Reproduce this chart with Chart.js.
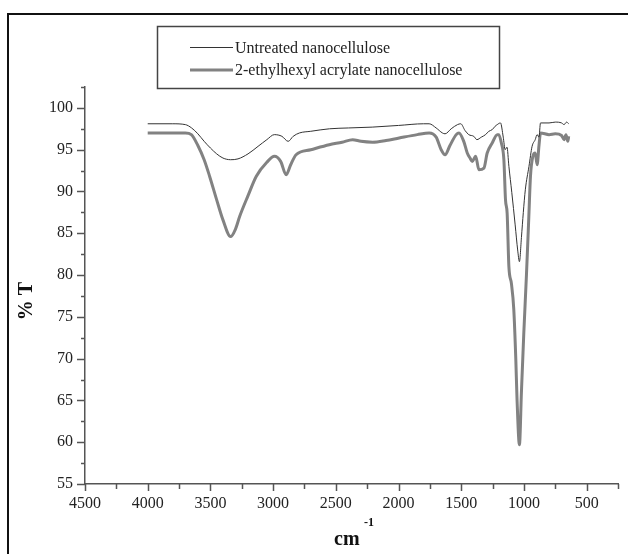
<!DOCTYPE html>
<html>
<head>
<meta charset="utf-8">
<script src="https://cdn.jsdelivr.net/npm/chart.js@4"></script>
<style>
  html, body { margin: 0; padding: 0; background: #fff; }
  #wrap { position: relative; width: 628px; height: 554px; overflow: hidden; }
  #frame { position: absolute; left: 7px; top: 13px; width: 700px; height: 700px;
           border-left: 2px solid #111; border-top: 2px solid #111; }
  #chart { position: absolute; left: 0; top: 0; }
</style>
</head>
<body>
<div id="wrap">
  <div id="frame"></div>
  <canvas id="chart" width="628" height="554"></canvas>
</div>
<script>
// wavenumbers (cm-1) and %T
const waveUntreated = [4000, 3800, 3700, 3650, 3600, 3550, 3500, 3450, 3400, 3340, 3280, 3200, 3120, 3050,
  2990, 2930, 2880, 2840, 2790, 2700, 2550, 2400, 2210, 2000, 1800, 1756, 1700, 1650, 1629, 1580, 1530,
  1504, 1470, 1440, 1400, 1375, 1340, 1306, 1280, 1253, 1230, 1213, 1187, 1165, 1150, 1135, 1120, 1097,
  1070, 1050, 1036, 1020, 1005, 989, 960, 935, 910, 895, 880, 868, 800, 750, 700, 680, 660, 643];
const tUntreated = [98.1, 98.1, 98.0, 97.6, 96.9, 96.0, 95.2, 94.5, 94.0, 93.8, 93.9, 94.5, 95.4, 96.2,
  96.8, 96.6, 96.0, 96.6, 97.0, 97.2, 97.5, 97.6, 97.7, 97.9, 98.1, 98.1, 97.6, 97.0, 96.9, 97.5, 98.0,
  98.1, 97.3, 96.8, 96.6, 96.2, 96.5, 96.8, 97.2, 97.4, 97.8, 98.0, 98.2, 96.5, 95.0, 95.3, 93.0, 89.9,
  86.0, 83.0, 81.6, 84.5, 87.5, 90.2, 93.0, 95.4, 96.2, 96.8, 96.5, 98.2, 98.2, 98.3, 98.2, 98.0, 98.3, 98.1];

const waveTreated = [4000, 3800, 3700, 3652, 3600, 3550, 3506, 3450, 3400, 3339, 3300, 3267, 3200, 3135,
  3050, 2989, 2940, 2896, 2860, 2817, 2700, 2552, 2450, 2366, 2300, 2207, 2100, 1995, 1850, 1756, 1700,
  1660, 1629, 1590, 1540, 1518, 1480, 1452, 1430, 1412, 1385, 1359, 1319, 1293, 1253, 1213, 1200, 1180,
  1160, 1147, 1134, 1120, 1100, 1081, 1065, 1055, 1036, 1020, 1001, 980, 961, 948, 929, 910, 895, 880,
  868, 800, 750, 700, 680, 665, 650, 643];
const tTreated = [97.0, 97.0, 97.0, 96.8, 95.5, 93.8, 91.8, 89.0, 86.6, 84.6, 85.5, 87.0, 89.5, 91.8,
  93.5, 94.2, 93.6, 92.0, 93.2, 94.4, 95.0, 95.6, 95.9, 96.2, 96.0, 95.9, 96.1, 96.4, 96.8, 97.0, 96.5,
  95.0, 94.4, 95.5, 96.8, 97.0, 96.0, 94.6, 94.0, 93.6, 94.2, 92.6, 92.8, 94.6, 95.8, 96.8, 96.8, 95.8,
  93.8, 89.0, 87.4, 81.0, 79.0, 75.9, 70.0, 65.1, 59.7, 66.0, 73.1, 80.0, 87.0, 91.8, 94.2, 94.6, 93.2, 95.5,
  97.0, 96.8, 96.9, 96.7, 96.2, 96.8, 96.0, 96.6];

const seriesNames = ["Untreated nanocellulose", "2-ethylhexyl acrylate nanocellulose"];
const xTickRange = [250, 4500];
const yTickRange = [55, 102.5];

const axisColor = "#555";
const textColor = "#222";
const serif = "'Liberation Serif', 'DejaVu Serif', serif";

const toPoints = (xs, ys) => xs.map((x, i) => ({ x: x, y: ys[i] }));

// hand-drawn bits: tick marks, axis titles, boxed legend
const decorations = {
  id: "decorations",
  afterDraw(chart) {
    const ctx = chart.ctx;
    const area = chart.chartArea;
    const xs = chart.scales.x;
    const ys = chart.scales.y;
    ctx.save();
    ctx.strokeStyle = axisColor;
    ctx.lineWidth = 1.5;
    ctx.beginPath();
    xs.ticks.forEach(t => {
      const px = Math.round(xs.getPixelForValue(t.value)) + 0.5;
      const len = t.value % 500 === 0 ? 7 : 5;
      ctx.moveTo(px, area.bottom);
      ctx.lineTo(px, area.bottom + len);
    });
    ys.ticks.forEach(t => {
      const py = Math.round(ys.getPixelForValue(t.value)) + 0.5;
      const len = t.value % 5 === 0 ? 8 : 4;
      ctx.moveTo(area.left, py);
      ctx.lineTo(area.left - len, py);
    });
    ctx.stroke();

    // axis titles
    ctx.fillStyle = "#111";
    ctx.font = "bold 20px " + serif;
    ctx.textAlign = "center";
    ctx.textBaseline = "middle";
    ctx.save();
    ctx.translate(27, 301);
    ctx.rotate(-Math.PI / 2);
    ctx.fillText("% T", 0, 0);
    ctx.restore();

    ctx.textAlign = "left";
    ctx.textBaseline = "alphabetic";
    ctx.fillText("cm", 334, 545);
    ctx.font = "bold 12px " + serif;
    ctx.fillText("-1", 364, 526);

    // legend
    ctx.strokeStyle = "#444";
    ctx.lineWidth = 1.5;
    ctx.strokeRect(157.5, 26.5, 342, 62);
    const rows = [47.5, 70];
    chart.data.datasets.forEach((ds, i) => {
      ctx.strokeStyle = ds.borderColor;
      ctx.lineWidth = ds.borderWidth;
      ctx.beginPath();
      ctx.moveTo(190, rows[i]);
      ctx.lineTo(233, rows[i]);
      ctx.stroke();
      ctx.fillStyle = textColor;
      ctx.font = "16px " + serif;
      ctx.textBaseline = "middle";
      ctx.fillText(ds.label, 235, rows[i] + 1);
    });
    ctx.restore();
  }
};

new Chart(document.getElementById("chart"), {
  type: "scatter",
  data: {
    datasets: [
      {
        label: seriesNames[0],
        data: toPoints(waveUntreated, tUntreated),
        showLine: true,
        borderColor: "#333",
        borderWidth: 1,
        pointRadius: 0,
        cubicInterpolationMode: "monotone"
      },
      {
        label: seriesNames[1],
        data: toPoints(waveTreated, tTreated),
        showLine: true,
        borderColor: "#828282",
        borderWidth: 3,
        pointRadius: 0,
        cubicInterpolationMode: "monotone"
      }
    ]
  },
  options: {
    responsive: false,
    animation: false,
    devicePixelRatio: 1,
    layout: { padding: { top: 87, right: 8, left: 0, bottom: 0 } },
    plugins: {
      legend: { display: false },
      tooltip: { enabled: false }
    },
    scales: {
      x: {
        type: "linear",
        reverse: true,
        min: xTickRange[0],
        max: xTickRange[1],
        afterFit: s => { s.height = 70; },
        border: { display: true, color: axisColor, width: 1.5 },
        grid: { display: false, drawTicks: false },
        ticks: {
          stepSize: 250,
          autoSkip: false,
          maxRotation: 0,
          padding: 10,
          color: textColor,
          font: { family: serif, size: 16 },
          callback: v => (v % 500 === 0 ? String(v) : "")
        }
      },
      y: {
        min: yTickRange[0],
        max: yTickRange[1],
        afterFit: s => { s.width = 85; },
        border: { display: true, color: axisColor, width: 1.5 },
        grid: { display: false, drawTicks: false },
        ticks: {
          stepSize: 2.5,
          autoSkip: false,
          padding: 12,
          color: textColor,
          font: { family: serif, size: 16 },
          callback: v => (v % 5 === 0 ? String(v) : "")
        }
      }
    }
  },
  plugins: [decorations]
});
</script>
</body>
</html>
